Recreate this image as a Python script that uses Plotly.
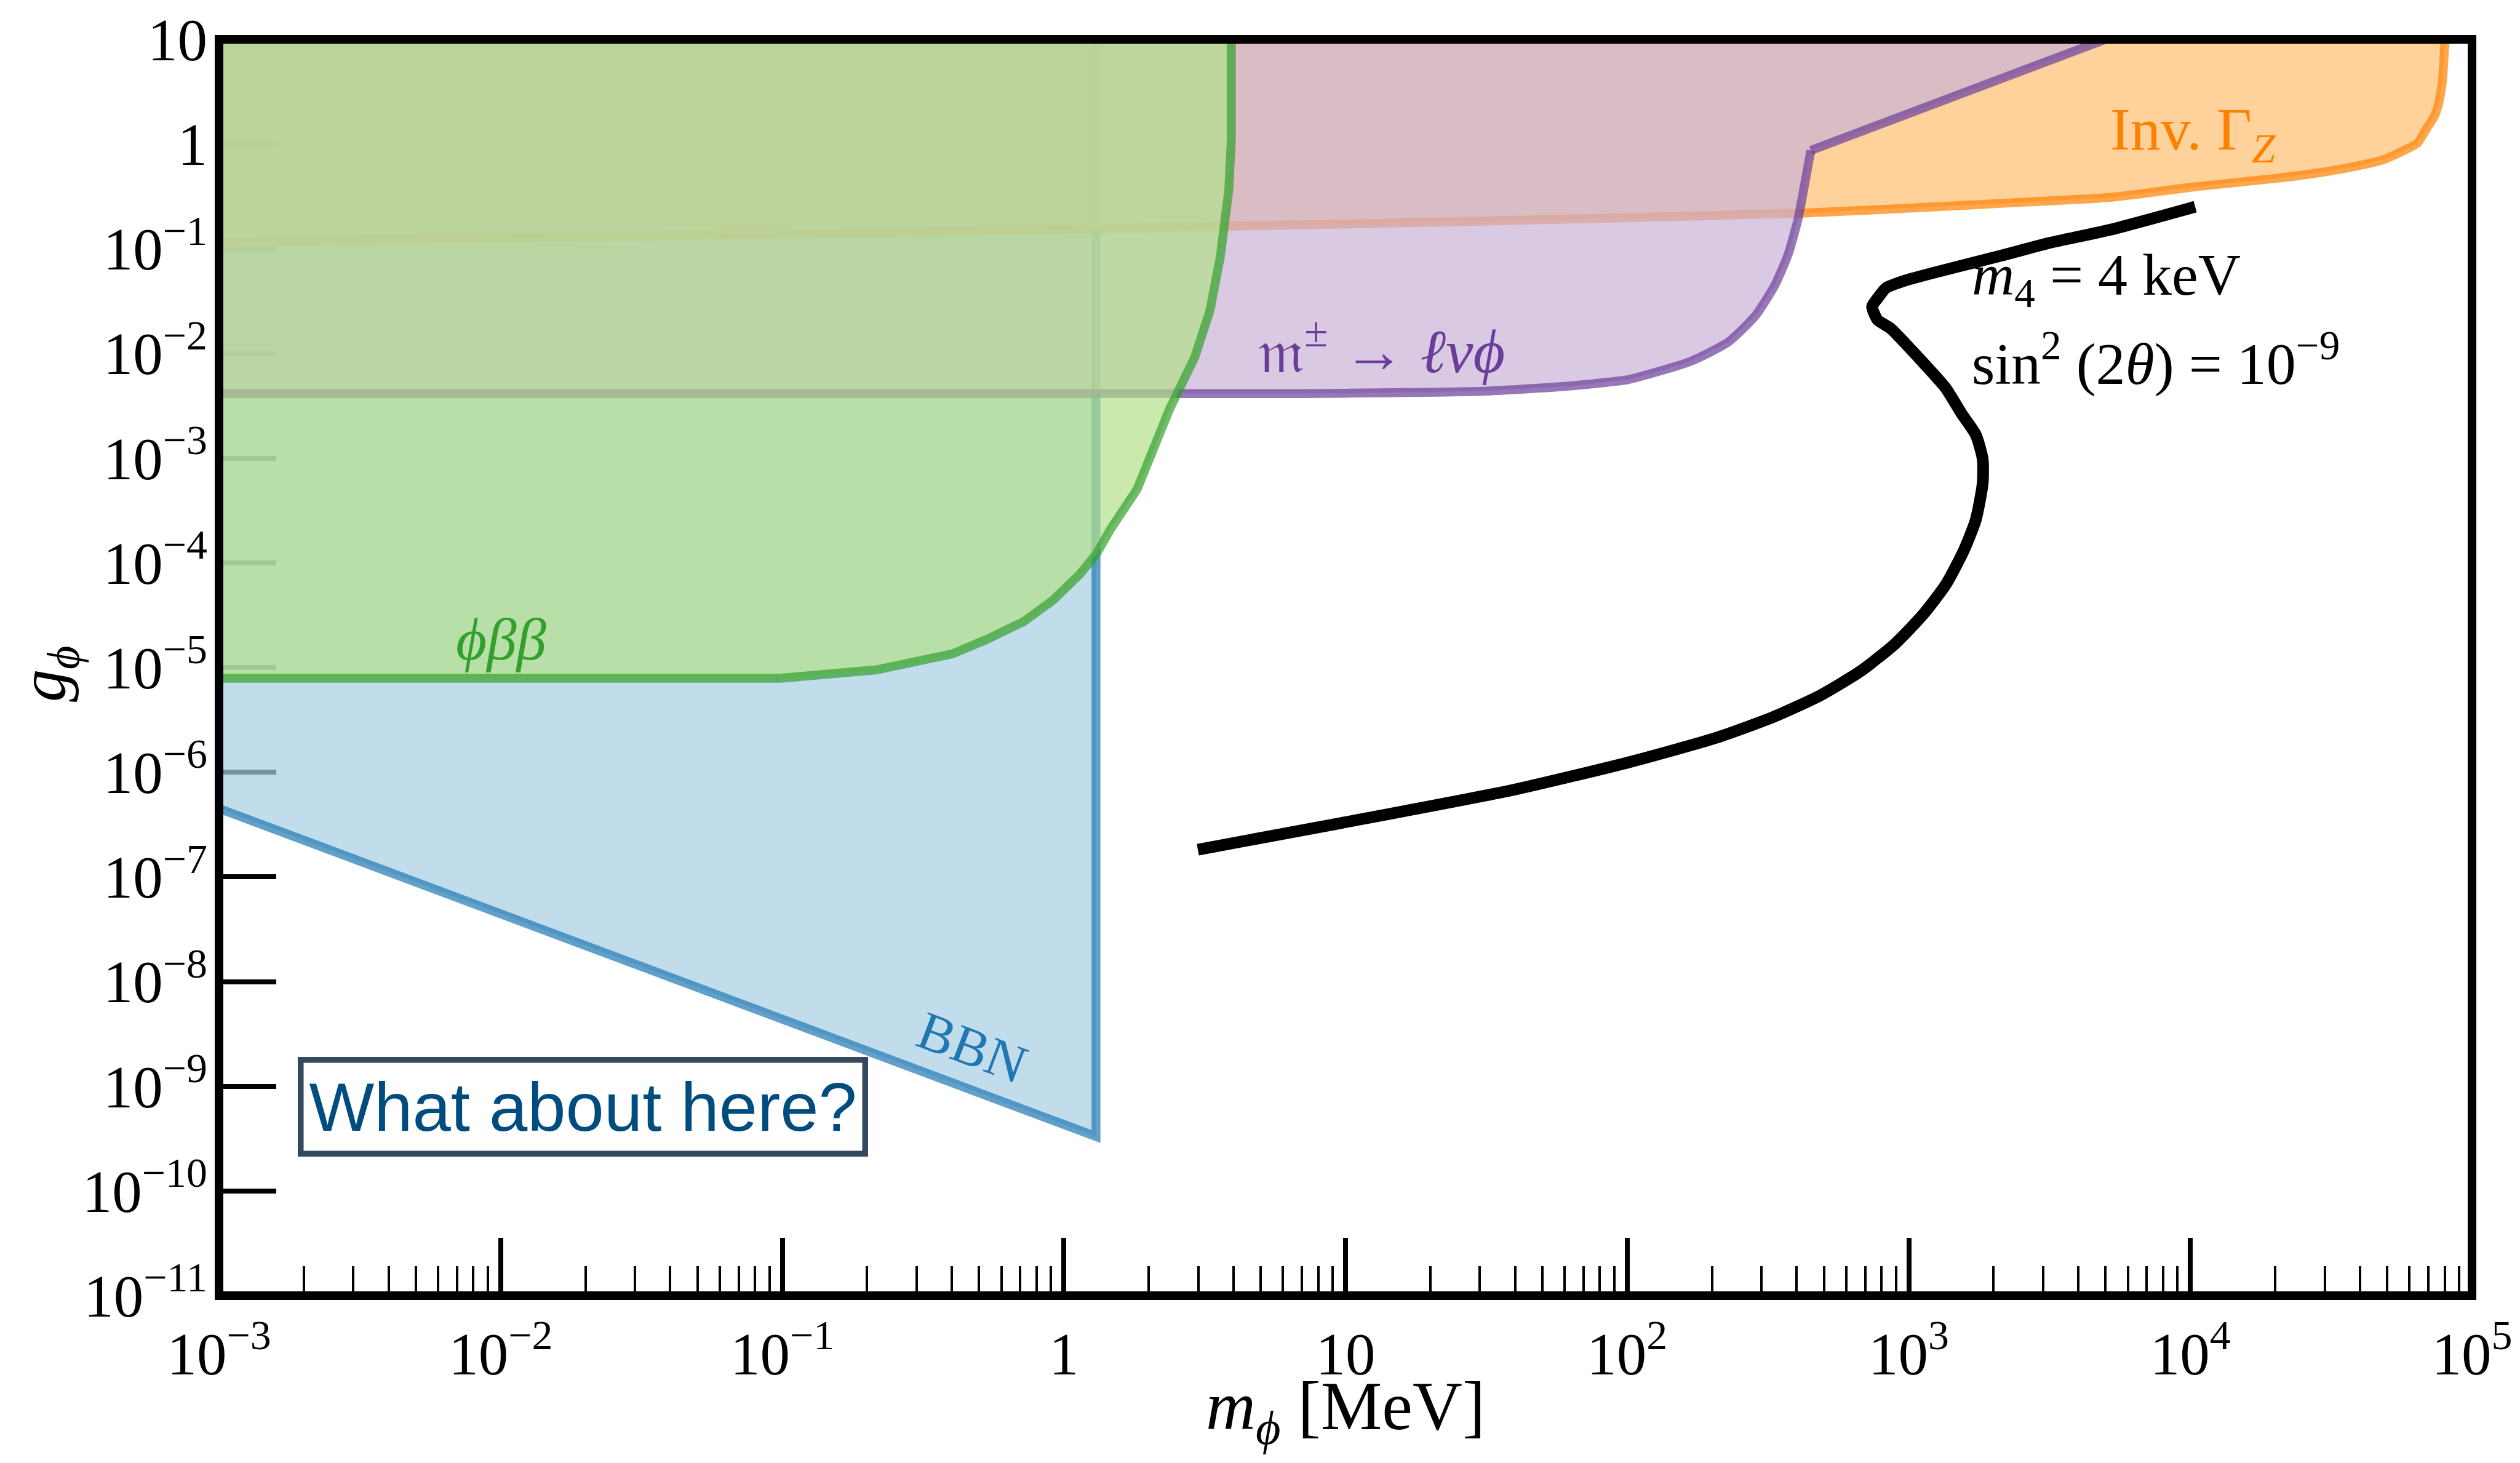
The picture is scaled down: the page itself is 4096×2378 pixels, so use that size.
import plotly.graph_objects as go

# ---------------- data ----------------
x_tickvals = [1e-3, 1e-2, 1e-1, 1, 10, 1e2, 1e3, 1e4, 1e5]
x_ticktext = ["10<sup>−3</sup>", "10<sup>−2</sup>", "10<sup>−1</sup>", "1", "10",
              "10<sup>2</sup>", "10<sup>3</sup>", "10<sup>4</sup>", "10<sup>5</sup>"]
x_minorvals = [d * 10.0 ** k for k in range(-3, 5) for d in range(2, 10)]
y_tickvals = [1e-11, 1e-10, 1e-9, 1e-8, 1e-7, 1e-6, 1e-5, 1e-4, 1e-3, 1e-2, 1e-1, 1, 10]
y_ticktext = ["10<sup>−11</sup>", "10<sup>−10</sup>", "10<sup>−9</sup>", "10<sup>−8</sup>",
              "10<sup>−7</sup>", "10<sup>−6</sup>", "10<sup>−5</sup>", "10<sup>−4</sup>",
              "10<sup>−3</sup>", "10<sup>−2</sup>", "10<sup>−1</sup>", "1", "10"]

# BBN bound
bbn_m = [1e-3, 1.30, 1.30]
bbn_g = [4.5e-7, 3.31e-10, 10]

# invisible Z width bound
z_m = [1e-3, 0.1, 1.3, 31.6, 414, 1585, 2630, 5250, 10500, 20400, 29100, 40700, 48400,
       57500, 64000, 68500, 73500, 76500, 78500, 80200]
z_g = [0.117, 0.138, 0.155, 0.184, 0.219, 0.26, 0.28, 0.31, 0.392, 0.472, 0.536, 0.631,
       0.708, 0.873, 1.02, 1.36, 1.84, 2.6, 4.0, 10]

# meson decay bound (index MES_KINK is the corner where the straight part starts)
mes_m = [1e-3, 5.6, 10, 31.6, 63.1, 100, 118, 168, 229, 286, 335, 373, 404, 427, 449, 5000]
mes_g = [4.13e-3, 4.13e-3, 4.17e-3, 4.37e-3, 4.9e-3, 5.6e-3, 6.28e-3, 8.4e-3, 1.29e-2,
         2.31e-2, 4.52e-2, 8.85e-2, 0.19, 0.415, 0.87, 10]
MES_KINK = 14

# neutrinoless double beta with phi emission
bb_m = [1e-3, 0.099, 0.216, 0.402, 0.531, 0.719, 0.912, 1.14, 1.31, 1.46, 1.82, 2.09,
        2.37, 2.92, 3.30, 3.59, 3.85, 3.93, 3.93]
bb_g = [7.9e-6, 7.9e-6, 9.5e-6, 1.35e-5, 1.85e-5, 2.74e-5, 4.36e-5, 7.8e-5, 1.24e-4,
        2.07e-4, 5.05e-4, 1.19e-3, 2.92e-3, 9.3e-3, 2.56e-2, 8.26e-2, 0.361, 1.08, 10]

# sterile neutrino contour (m4 = 4 keV, sin^2 2theta = 1e-9)
st_m = [2.99, 9.70, 39.8, 102, 207, 332, 484, 673, 893, 1130, 1360, 1570, 1730, 1830,
        1830, 1730, 1540, 1350, 1080, 865, 774, 741, 776, 830, 970, 1333, 2150, 3130,
        5240, 10400]
st_g = [1.82e-7, 3.28e-7, 6.82e-7, 1.25e-6, 2.13e-6, 3.39e-6, 5.40e-6, 9.2e-6, 1.68e-5,
        3.26e-5, 6.32e-5, 1.32e-4, 2.58e-4, 5.74e-4, 9.8e-4, 1.67e-3, 2.66e-3, 4.70e-3,
        9.2e-3, 1.72e-2, 2.10e-2, 2.81e-2, 3.38e-2, 4.22e-2, 4.97e-2, 6.25e-2, 8.65e-2,
        0.113, 0.153, 0.252]

X_RANGE = [1e-3, 1e5]
Y_RANGE = [1e-11, 10]

# ---------------- styles ----------------
SERIF = "Liberation Serif"
LW = 14.5
FILL_A = 0.7
LINE_A = 0.7


def rgba(h, a):
    h = h.lstrip("#")
    r, g, b = int(h[0:2], 16), int(h[2:4], 16), int(h[4:6], 16)
    return f"rgba({r},{g},{b},{a})"


fig = go.Figure()


def add_line(xs, ys, color, smooth):
    line = dict(color=color, width=LW)
    if smooth:
        line.update(shape="spline", smoothing=0.6)
    fig.add_trace(go.Scatter(x=xs, y=ys, mode="lines", line=line, hoverinfo="skip"))


def region(xs, ys, light, dark, smooth=False, kink=None):
    px = list(xs) + [X_RANGE[0]]
    py = list(ys) + [Y_RANGE[1]]
    fig.add_trace(go.Scatter(x=px, y=py, mode="lines", fill="toself",
                             fillcolor=rgba(light, FILL_A), line=dict(width=0),
                             hoverinfo="skip"))
    col = rgba(dark, LINE_A)
    if kink is None:
        add_line(xs, ys, col, smooth)
    else:
        add_line(xs[:kink + 1], ys[:kink + 1], col, smooth)
        add_line(xs[kink:], ys[kink:], col, False)


region(bbn_m, bbn_g, "#a6cee3", "#1f78b4")                              # BBN
region(z_m, z_g, "#fdbf6f", "#ff7f00", smooth=True)                     # Inv Gamma_Z
region(mes_m, mes_g, "#cab2d6", "#6a3d9a", smooth=True, kink=MES_KINK)  # meson decays
region(bb_m, bb_g, "#b2df8a", "#33a02c")                                # phi beta beta

fig.add_trace(go.Scatter(x=st_m, y=st_g, mode="lines",
                         line=dict(color="black", width=19, shape="spline", smoothing=0.6),
                         hoverinfo="skip"))

axis_common = dict(type="log", showgrid=False, zeroline=False, showline=False,
                   ticks="inside", tickcolor="black", layer="below traces",
                   tickmode="array", ticklabeloverflow="allow",
                   tickfont=dict(family=SERIF, size=97, color="black"))

fig.update_xaxes(range=[-3, 5], tickvals=x_tickvals, ticktext=x_ticktext,
                 ticklen=94, tickwidth=8, ticklabelstandoff=30,
                 minor=dict(tickmode="array", tickvals=x_minorvals, ticks="inside",
                            ticklen=48, tickwidth=4, tickcolor="black", showgrid=False),
                 **axis_common)
fig.update_yaxes(range=[-11, 1], tickvals=y_tickvals, ticktext=y_ticktext,
                 ticklen=93, tickwidth=8, ticklabelstandoff=18, **axis_common)

annotations = [
    dict(text="<i>m</i><sub><i>ϕ</i></sub> [MeV]", xref="paper", yref="paper",
         x=0.5, y=-0.092, xanchor="center", yanchor="middle", showarrow=False,
         font=dict(family=SERIF, size=112, color="black")),
    dict(text="<i>g</i><sub><i>ϕ</i></sub>", xref="paper", yref="paper",
         x=-0.076, y=0.495, xanchor="center", yanchor="middle", showarrow=False,
         textangle=-90, font=dict(family=SERIF, size=106, color="black")),
    dict(text="Inv. Γ<sub><i>Z</i></sub>", x=4.01, y=0.10, xref="x", yref="y",
         showarrow=False, xanchor="center", yanchor="middle",
         font=dict(family=SERIF, size=98, color="#ff7f00")),
    dict(text="𝔪<sup>±</sup> → <i>ℓνϕ</i>", x=1.128, y=-1.936, xref="x", yref="y",
         showarrow=False, xanchor="center", yanchor="middle",
         font=dict(family=SERIF, size=100, color="#6a3d9a")),
    dict(text="<i>ϕββ</i>", x=-1.997, y=-4.732, xref="x", yref="y",
         showarrow=False, xanchor="center", yanchor="middle",
         font=dict(family=SERIF, size=97, color="#33a02c")),
    dict(text="BBN", x=-0.326, y=-8.626, xref="x", yref="y", textangle=20.7,
         showarrow=False, xanchor="center", yanchor="middle",
         font=dict(family=SERIF, size=88, color="#1f78b4")),
    dict(text="<i>m</i><sub>4</sub> = 4 keV", x=3.22, y=-1.288, xref="x", yref="y",
         showarrow=False, xanchor="left", yanchor="middle",
         font=dict(family=SERIF, size=96, color="black")),
    dict(text="sin<sup>2</sup> (2<i>θ</i>) = 10<sup>−9</sup>", x=3.22, y=-2.059,
         xref="x", yref="y", showarrow=False, xanchor="left", yanchor="middle",
         font=dict(family=SERIF, size=96, color="black")),
    dict(text="What about here?", x=-1.708, y=-9.198, xref="x", yref="y",
         showarrow=False, xanchor="center", yanchor="middle",
         font=dict(family="Liberation Sans", size=112, color="#004c7f"),
         bordercolor="#34495e", borderwidth=9.5, borderpad=9, bgcolor="white"),
]

fig.update_layout(
    width=4096, height=2378,
    margin=dict(l=356, r=78, t=50, b=272, pad=0),
    plot_bgcolor="white", paper_bgcolor="white",
    showlegend=False,
    font=dict(family=SERIF, color="black"),
    annotations=annotations,
    shapes=[dict(type="rect", xref="paper", yref="paper", x0=0, x1=1, y0=0, y1=1,
                 line=dict(color="black", width=14), layer="above")],
)

fig.write_html("out.html")
